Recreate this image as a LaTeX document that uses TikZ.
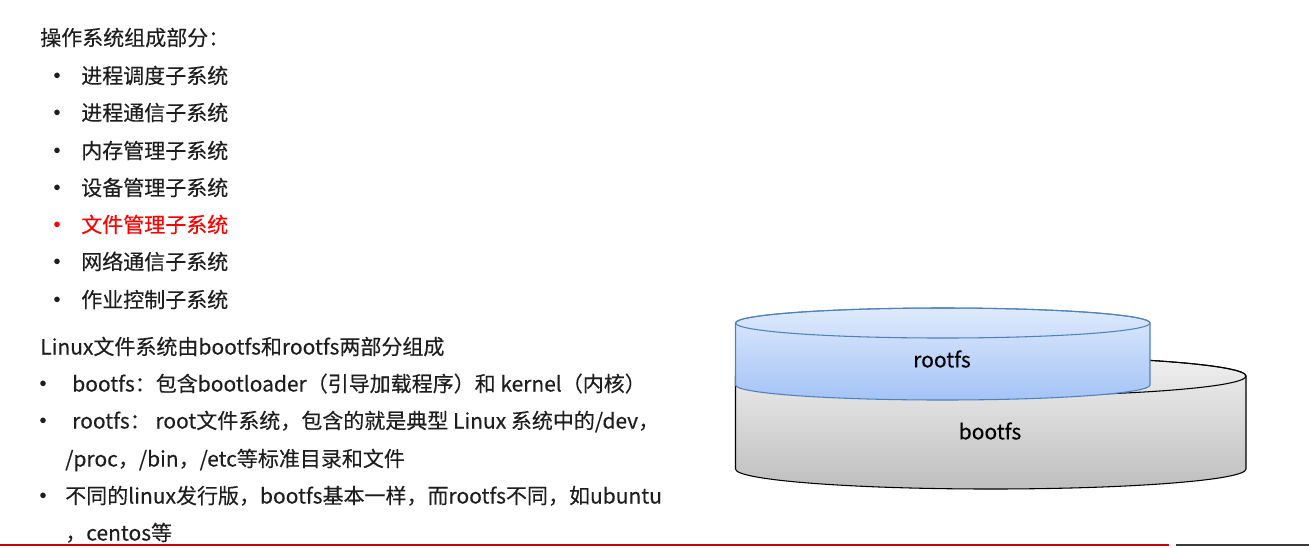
\documentclass[tikz,border=0pt]{standalone}
\usepackage{fontspec}
\setmainfont{Noto Sans CJK SC}[FakeBold=0.25]
\definecolor{textc}{HTML}{1E1E1E}
\definecolor{redc}{HTML}{FF0000}
\definecolor{linered}{HTML}{CC0000}
\definecolor{linegray}{HTML}{3A3A3A}
\definecolor{rtop}{HTML}{DEEAFC}
\definecolor{rbot}{HTML}{A4C3F6}
\definecolor{rborder}{HTML}{4F81BD}
\definecolor{btop}{HTML}{F0F0F0}
\definecolor{bbot}{HTML}{BEBEBE}
\begin{document}
\begin{tikzpicture}[x=0.75pt,y=-0.75pt,
  txt/.style={anchor=base west, inner sep=0pt, font=\fontsize{15.75pt}{18pt}\selectfont, text=textc},
  bul/.style={anchor=base, inner sep=0pt, font=\fontsize{19pt}{21pt}\selectfont, text=textc},
  cyltext/.style={anchor=center, inner sep=0pt, font=\fontsize{15.75pt}{18pt}\selectfont, text=black}]
\useasboundingbox (0,0) rectangle (1309,547);
\fill[white] (0,0) rectangle (1309,547);

% headings and list 1
\node[txt] (title) at (40,45.5) {操作系统组成部分：};
\node[bul] (b1) at (57,85) {•};
\node[txt] (i1) at (81,83.5) {进程调度子系统};
\node[bul] (b2) at (57,122) {•};
\node[txt] (i2) at (81,120.5) {进程通信子系统};
\node[bul] (b3) at (57,160) {•};
\node[txt] (i3) at (81,158.5) {内存管理子系统};
\node[bul] (b4) at (57,197) {•};
\node[txt] (i4) at (81,195.5) {设备管理子系统};
\node[bul,text=redc] (b5) at (57,234) {•};
\node[txt,text=redc] (i5) at (81,232.5) {文件管理子系统};
\node[bul] (b6) at (57,271) {•};
\node[txt] (i6) at (81,269.5) {网络通信子系统};
\node[bul] (b7) at (57,309) {•};
\node[txt] (i7) at (81,307.5) {作业控制子系统};

% section 2
\node[txt] (l0) at (40,354.5) {Linux文件系统由bootfs和rootfs两部分组成};
\node[bul] (c1) at (43,393) {•};
\node[txt] (l1) at (72,391.5) {bootfs：包含bootloader（引导加载程序）和 kernel（内核）};
\node[bul] (c2) at (43,430) {•};
\node[txt] (l2) at (72,428.5) {rootfs：\ root文件系统，包含的就是典型 Linux 系统中的/dev，};
\node[txt] (l2b) at (65,466.5) {/proc，/bin，/etc等标准目录和文件};
\node[bul] (c3) at (43,505) {•};
\node[txt] (l3) at (65,503.5) {不同的linux发行版，bootfs基本一样，而rootfs不同，如ubuntu};
\node[txt] (l3b) at (65,540.5) {，centos等};

% bootfs cylinder
\shade[top color=btop, bottom color=bbot, draw=black, line width=0.8pt]
  (735.5,376) -- (735.5,469) arc[start angle=180, end angle=0, x radius=255.25, y radius=20]
  -- (1246,376) arc[start angle=0, end angle=-180, x radius=255.25, y radius=20] -- cycle;
\draw[black, line width=0.8pt] (990.75,376) ellipse [x radius=255.25, y radius=20];

% rootfs cylinder
\shade[top color=rtop, bottom color=rbot, draw=rborder, line width=0.8pt]
  (735.5,323) -- (735.5,385) arc[start angle=180, end angle=0, x radius=207.25, y radius=15]
  -- (1150,323) arc[start angle=0, end angle=-180, x radius=207.25, y radius=15] -- cycle;
\draw[rborder, line width=0.8pt] (942.75,323) ellipse [x radius=207.25, y radius=15];

\node[cyltext] (rootfs) at (942,359) {rootfs};
\node[cyltext] (bootfs) at (990,431) {bootfs};

% bottom rule
\coordinate (r0) at (0,545);
\coordinate (r1) at (1169,545);
\coordinate (g0) at (1176,545);
\coordinate (g1) at (1309,545);
\draw[linered, line width=1.5pt] (r0) -- (r1);
\draw[linegray, line width=1.5pt] (g0) -- (g1);
\end{tikzpicture}
\end{document}
